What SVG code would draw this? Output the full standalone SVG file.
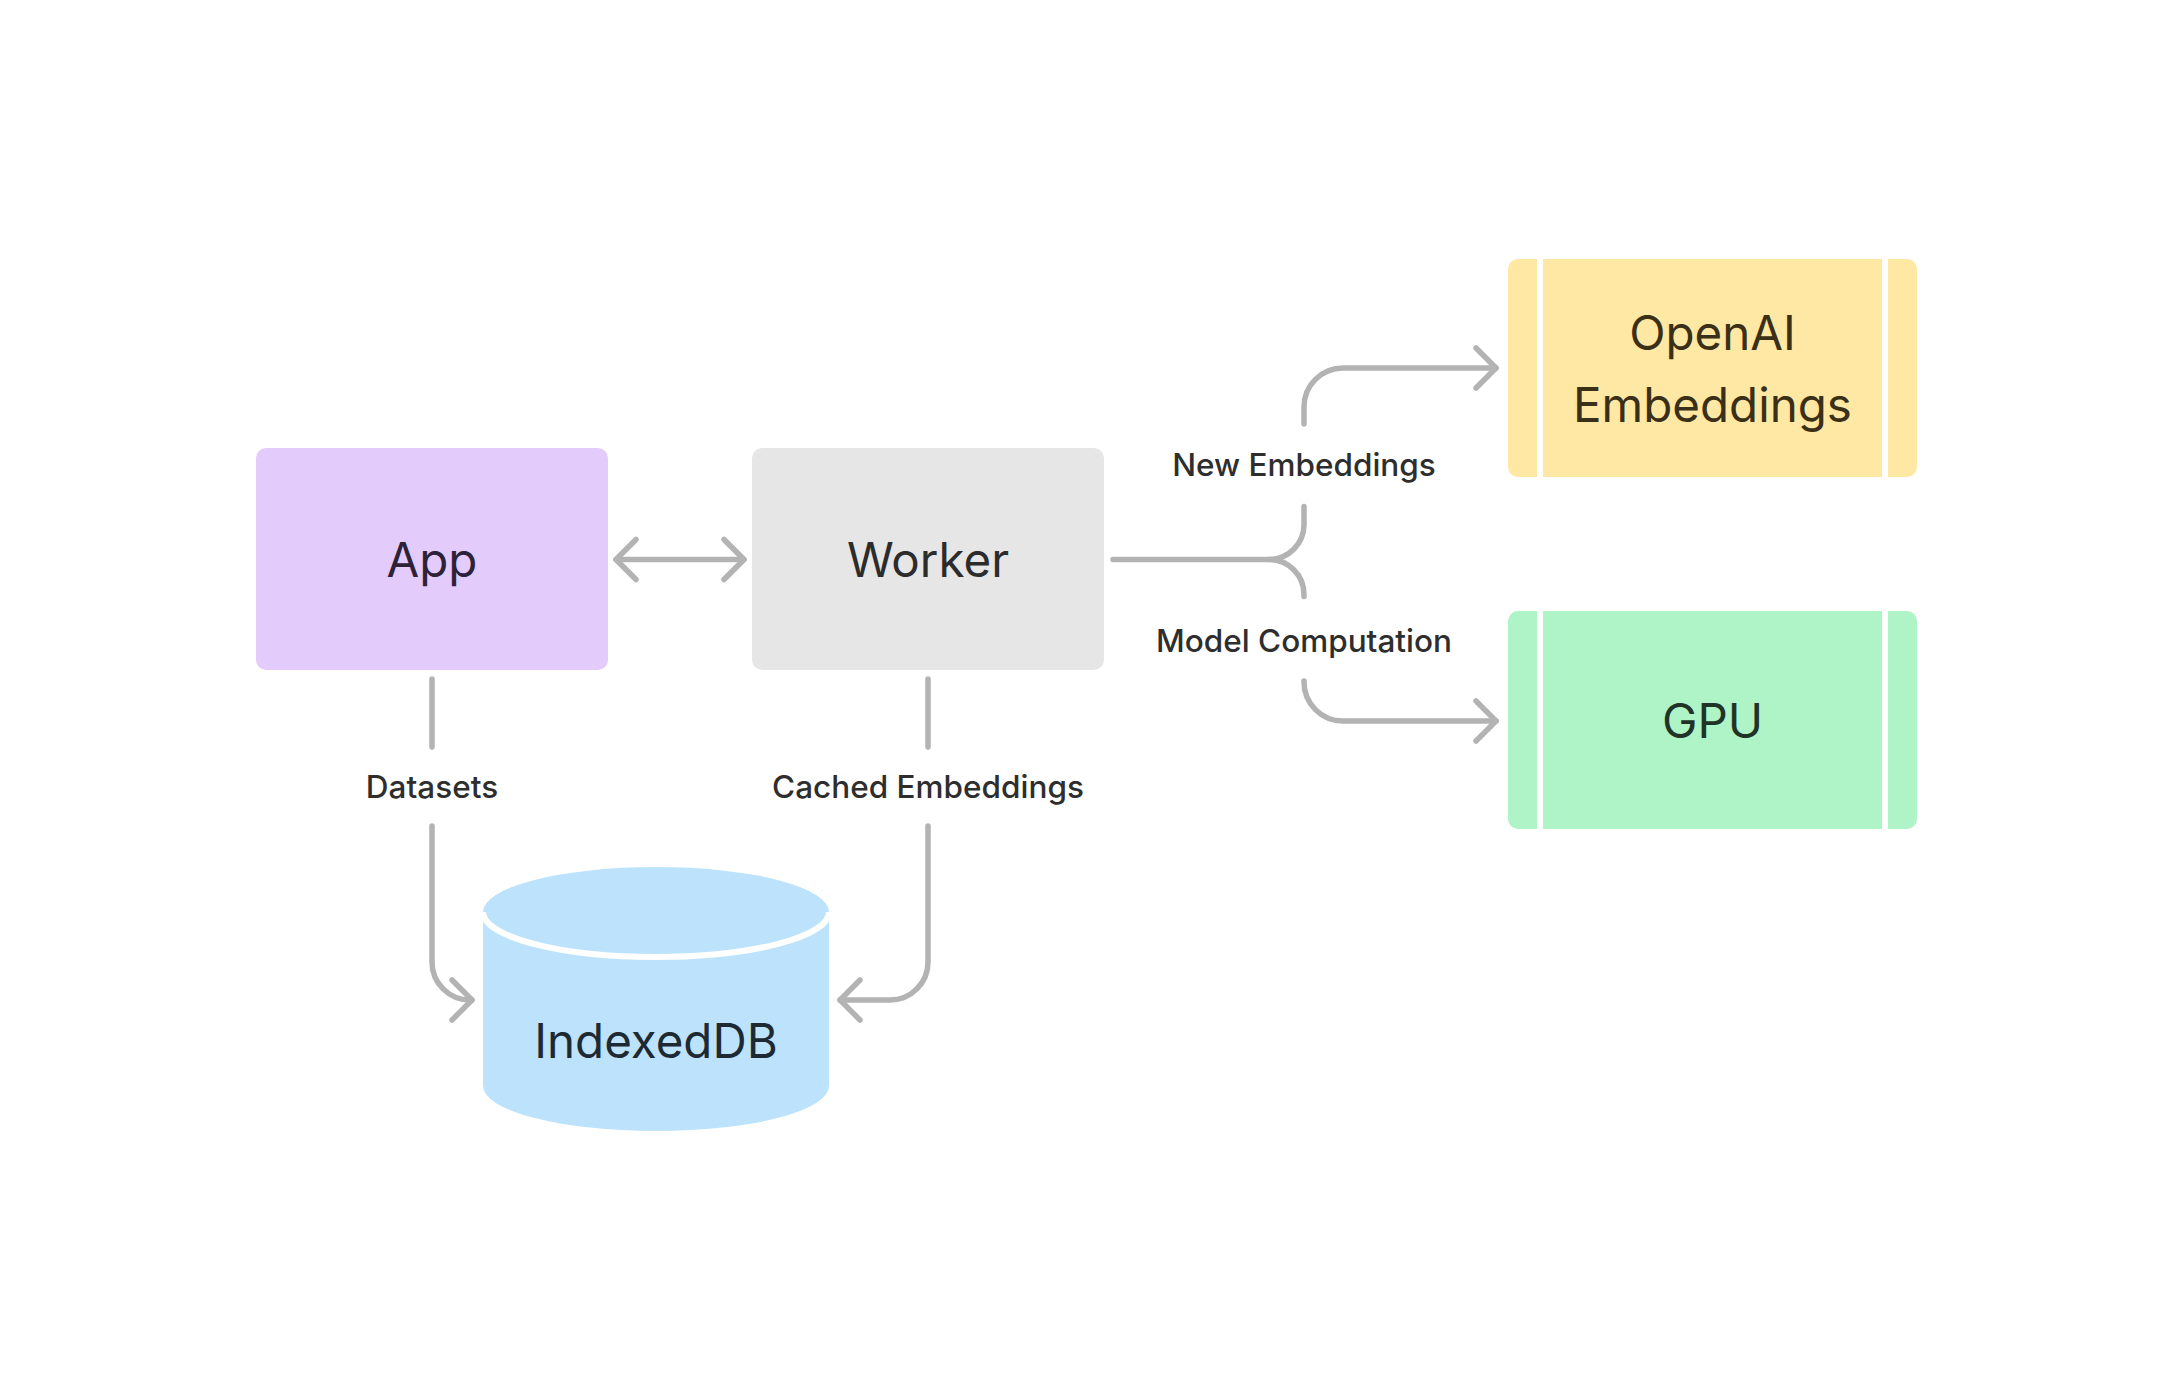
<svg xmlns="http://www.w3.org/2000/svg" width="2176" height="1392" viewBox="0 0 2176 1392">
<style>
.conn{fill:none;stroke:#B3B3B3;stroke-width:5.5;stroke-linecap:round;stroke-linejoin:round}
.node{font-family:Inter,"Liberation Sans",sans-serif;font-size:47.5px;font-weight:400;text-anchor:middle}
.lbl{font-family:Inter,"Liberation Sans",sans-serif;font-size:31.5px;font-weight:500;fill:#2E2E2E;text-anchor:middle}
.sep{stroke:#FFFFFF;stroke-width:6}
</style>
<defs>
<marker id="arr" viewBox="-28 -26 32 52" markerWidth="32" markerHeight="52" refX="0" refY="0" markerUnits="userSpaceOnUse" orient="auto-start-reverse">
<path d="M-20,-20 L0,0 L-20,20" fill="none" stroke="#B3B3B3" stroke-width="5.5" stroke-linecap="round" stroke-linejoin="round"/>
</marker>
</defs>
<rect width="2176" height="1392" fill="#FFFFFF"/>
<g id="connectors">
<path class="conn" d="M616,559.5 H744" marker-start="url(#arr)" marker-end="url(#arr)"/>
<path class="conn" d="M1113,559.5 H1269 A35,35 0 0 0 1304,524.5 V506.5"/>
<path class="conn" d="M1269,559.5 A35,35 0 0 1 1304,594.5 V596.5"/>
<path class="conn" d="M1304,424 V407 A39,39 0 0 1 1343,368 H1496" marker-end="url(#arr)"/>
<path class="conn" d="M1304,681 V682 A39,39 0 0 0 1343,721 H1496" marker-end="url(#arr)"/>
<path class="conn" d="M432,679 V747"/>
<path class="conn" d="M432,826 V962 A38,38 0 0 0 470,1000 H472" marker-end="url(#arr)"/>
<path class="conn" d="M928,679 V747"/>
<path class="conn" d="M928,826 V962 A38,38 0 0 1 890,1000 H840" marker-end="url(#arr)"/>
<text class="lbl" x="1304" y="476">New Embeddings</text>
<text class="lbl" x="1304" y="652">Model Computation</text>
<text class="lbl" x="432" y="798">Datasets</text>
<text class="lbl" x="928" y="798">Cached Embeddings</text>
</g>
<g id="app">
<rect x="256" y="448" width="352" height="222" rx="10" fill="#E3CCFC"/>
<text class="node" x="432" y="577" fill="#2E2238">App</text>
</g>
<g id="worker">
<rect x="752" y="448" width="352" height="222" rx="10" fill="#E6E6E6"/>
<text class="node" x="928" y="577" fill="#2C2C2C">Worker</text>
</g>
<g id="openai">
<rect x="1508" y="259" width="409" height="218" rx="10" fill="#FFE8A3"/>
<line class="sep" x1="1540" y1="259" x2="1540" y2="477"/>
<line class="sep" x1="1885" y1="259" x2="1885" y2="477"/>
<text class="node" x="1712.5" y="350" fill="#3A2F17">OpenAI</text>
<text class="node" x="1712.5" y="421.5" fill="#3A2F17">Embeddings</text>
</g>
<g id="gpu">
<rect x="1508" y="611" width="409" height="218" rx="10" fill="#AFF4C6"/>
<line class="sep" x1="1540" y1="611" x2="1540" y2="829"/>
<line class="sep" x1="1885" y1="611" x2="1885" y2="829"/>
<text class="node" x="1712.5" y="737.5" fill="#1F3326">GPU</text>
</g>
<g id="indexeddb">
<path d="M483,912 V1086 A173,45 0 0 0 829,1086 V912 Z" fill="#BDE3FC"/>
<ellipse cx="656" cy="912" rx="173" ry="45" fill="#BDE3FC"/>
<path d="M483,912 A173,45 0 0 0 829,912" fill="none" stroke="#FFFFFF" stroke-width="6"/>
<text class="node" x="656" y="1057.5" fill="#1E2A33">IndexedDB</text>
</g>
</svg>
